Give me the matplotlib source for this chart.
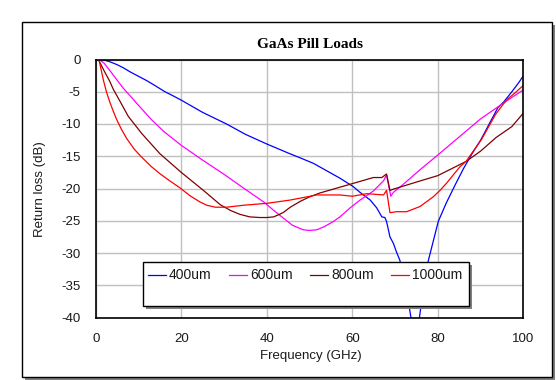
import matplotlib
matplotlib.use("Agg")
import matplotlib.pyplot as plt
from matplotlib.patches import Rectangle
from matplotlib.lines import Line2D

# ---- data ----
f_400 = [0.85, 2, 3.3, 5, 6.5, 8, 10, 12, 14, 16.2, 18, 20, 25, 30.6, 35, 40, 45, 48, 50.9,
         53.6, 57.1, 60.2, 61.8, 64.2, 65.7, 66.9, 67.6, 68, 68.8, 69.6, 70.3, 71.1, 72.5,
         73.7, 74.7, 75.7, 77, 77.8, 80.1, 82, 84, 86, 88, 90, 92, 94, 95.5, 97.3, 99, 100]
rl_400 = [0, -0.1, -0.35, -0.8, -1.3, -1.9, -2.6, -3.3, -4.1, -5.0, -5.6, -6.3, -8.2, -10.0,
          -11.6, -13.1, -14.5, -15.3, -16.1, -17.1, -18.4, -19.7, -20.6, -21.8, -23.0, -24.4,
          -24.5, -25.1, -27.5, -28.5, -29.8, -31.1, -35, -40, -41.5, -40, -33.5, -31.1,
          -25.1, -22.2, -19.5, -16.9, -14.6, -12.5, -10.0, -7.5, -6.5, -5.0, -3.5, -2.5]

f_600 = [0.85, 2, 3.3, 5, 6.5, 8, 10, 13, 16, 20, 25, 30, 34.5, 39.3, 42, 43.9, 46, 48.5, 50,
         51.7, 53.5, 55.6, 57.1, 59.5, 61.8, 64.9, 67.3, 68, 69, 69.6, 72, 76, 80, 85, 90,
         95, 100]
rl_600 = [0, -0.6, -1.7, -3.2, -4.5, -5.6, -7.1, -9.3, -11.2, -13.3, -15.6, -17.8, -19.9,
          -22.1, -23.6, -24.6, -25.7, -26.4, -26.5, -26.4, -25.9, -25.1, -24.4, -23.0, -21.8,
          -20.4, -18.8, -17.9, -21.2, -20.6, -19.3, -17.0, -14.8, -12.0, -9.2, -6.9, -4.7]

f_800 = [0.85, 2, 3.3, 4.1, 5.7, 7.6, 10.8, 15, 20, 25.2, 29.1, 31.5, 33.7, 36, 38.4, 40,
         41.6, 43, 43.9, 45.5, 47.8, 50, 52.4, 57.1, 61.8, 64.9, 66.9, 68, 68.8, 69.6, 75, 80,
         83, 86.6, 90, 93.6, 97.3, 100]
rl_800 = [-0.3, -1.8, -3.4, -4.6, -6.5, -8.8, -11.5, -14.6, -17.5, -20.3, -22.5, -23.4,
          -24.0, -24.4, -24.5, -24.5, -24.4, -24.0, -23.7, -22.9, -22.0, -21.3, -20.7, -19.8,
          -18.9, -18.3, -18.3, -17.75, -20.3, -20.1, -19.0, -18.0, -17.0, -15.8, -14.2,
          -12.1, -10.4, -8.3]

f_1000 = [0.85, 1.8, 2.5, 3.3, 4.1, 4.9, 6, 7.2, 9, 10.7, 13, 15, 17.5, 19.7, 22, 24.4, 26,
          28, 30.6, 34.5, 40, 45.4, 51.7, 57.1, 60, 63.4, 67.3, 68, 68.8, 70.3, 72.7, 75.8,
          78.9, 80.5, 82, 85.2, 86.6, 90.2, 93.5, 96, 98, 100]
rl_1000 = [-0.3, -3.2, -5.0, -6.6, -8.0, -9.3, -10.8, -12.2, -13.9, -15.1, -16.6, -17.7,
           -18.9, -19.9, -21.1, -22.1, -22.6, -22.9, -22.9, -22.6, -22.3, -21.8, -21.0,
           -21.0, -21.2, -20.8, -21.0, -20.3, -23.75, -23.6, -23.6, -22.8, -21.3, -20.3,
           -19.2, -16.6, -15.8, -12.4, -8.5, -6.3, -5.2, -4.0]

series_names = ["400um", "600um", "800um", "1000um"]
series_colors = ["#0000ff", "#ff00ff", "#800000", "#ff0000"]
x_ticks = [0, 20, 40, 60, 80, 100]
y_ticks = [0, -5, -10, -15, -20, -25, -30, -35, -40]

plt.rcParams['font.family'] = ['Liberation Sans', 'DejaVu Sans']

W, H = 556, 380
fig = plt.figure(figsize=(W / 100, H / 100), dpi=100)
fig.patch.set_facecolor("white")

def fx(px):
    return px / W

def fy(py):
    return 1 - py / H

# outer frame with shadow
fig.add_artist(Rectangle((fx(25), fy(380)), fx(552) - fx(22), fy(22) - fy(377),
                         transform=fig.transFigure, facecolor="#808080",
                         edgecolor="none", zorder=-3))
fig.add_artist(Rectangle((fx(22), fy(377)), fx(552) - fx(22), fy(22) - fy(377),
                         transform=fig.transFigure, facecolor="white",
                         edgecolor="black", linewidth=1.0, zorder=-2))

ax = fig.add_axes([fx(95.7), fy(317.5), fx(523.4) - fx(95.7), fy(59.5) - fy(317.5)])
ax.set_facecolor("white")

for fr, rl, c in zip([f_400, f_600, f_800, f_1000], [rl_400, rl_600, rl_800, rl_1000],
                     series_colors):
    ax.plot(fr, rl, color=c, linewidth=0.9)

ax.set_xlim(0, 100)
ax.set_ylim(-40, 0)
ax.set_xticks(x_ticks)
ax.set_yticks(y_ticks)
ax.set_yticklabels([str(v) for v in y_ticks])
ax.grid(True, color="#c0c0c0", linewidth=1.0)
ax.set_axisbelow(True)
ax.tick_params(length=0, labelsize=9.5, colors="#1a1a1a")
ax.tick_params(axis="y", pad=11)
ax.tick_params(axis="x", pad=11)
for s in ax.spines.values():
    s.set_linewidth(1.2)
    s.set_color("black")

fig.text(fx(310), fy(45), "GaAs Pill Loads", ha="center", va="center",
         family=["Liberation Serif", "DejaVu Serif"], fontweight="bold", fontsize=11)
fig.text(fx(311), fy(356), "Frequency (GHz)", ha="center", va="center", fontsize=9.5,
         color="#1a1a1a")
fig.text(fx(40), fy(189), "Return loss (dB)", ha="center", va="center", rotation=90,
         fontsize=9.5, color="#1a1a1a")

# legend box
lx0, lx1, ly0, ly1 = 143, 469, 262, 306
fig.add_artist(Rectangle((fx(lx0 + 3), fy(ly1 + 3)), fx(lx1) - fx(lx0), fy(ly0) - fy(ly1),
                         transform=fig.transFigure, facecolor="#808080",
                         edgecolor="none", zorder=5))
fig.add_artist(Rectangle((fx(lx0), fy(ly1)), fx(lx1) - fx(lx0), fy(ly0) - fy(ly1),
                         transform=fig.transFigure, facecolor="white",
                         edgecolor="black", linewidth=1.0, zorder=6))
line_x = [147.5, 229, 310, 391]
text_x = [169, 250, 331, 412]
for name, c, lx, tx in zip(series_names, series_colors, line_x, text_x):
    fig.add_artist(Line2D([fx(lx), fx(lx + 18)], [fy(275), fy(275)], color=c,
                          linewidth=0.9, transform=fig.transFigure, zorder=7))
    fig.text(fx(tx), fy(275), name, ha="left", va="center", fontsize=10,
             color="#1a1a1a", zorder=7)

fig.savefig("out.png", dpi=100)
